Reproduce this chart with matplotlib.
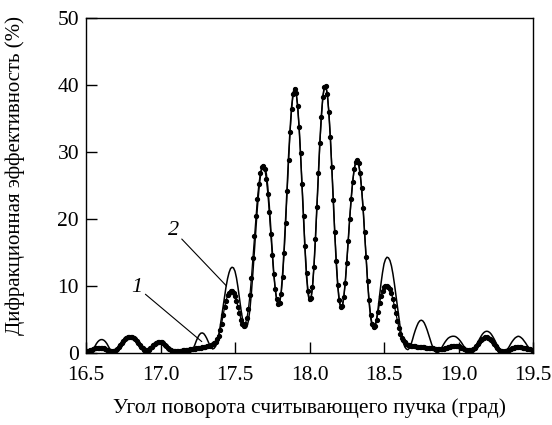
import numpy as np
import matplotlib
matplotlib.use("Agg")
import matplotlib.pyplot as plt

plt.rcParams['font.family'] = ['Liberation Serif', 'DejaVu Serif']

# read angle, deg (step 0.01 from 16.50 to 19.50)
angle = np.round(np.arange(1650, 1951) / 100.0, 2)

# curve 2 (thin line)
eff_2 = [
    0.3, 0.15, 0.05, 0.1, 0.3, 0.6, 1.0, 1.4, 1.7, 1.9,          # 16.50
    2.0, 2.0, 1.9, 1.7, 1.4, 1.0, 0.6, 0.3, 0.1, 0.05,           # 16.60
    0.2, 0.4, 0.7, 1.0, 1.35, 1.65, 1.9, 2.05, 2.15, 2.2,        # 16.70
    2.2, 2.15, 2.05, 1.9, 1.65, 1.35, 1.0, 0.7, 0.4, 0.2,        # 16.80
    0.05, 0.05, 0.2, 0.45, 0.75, 1.05, 1.3, 1.5, 1.65, 1.7,      # 16.90
    1.7, 1.65, 1.5, 1.3, 1.05, 0.75, 0.45, 0.25, 0.1, 0.05,      # 17.00
    0.1, 0.2, 0.3, 0.35, 0.4, 0.4, 0.35, 0.3, 0.2, 0.1,          # 17.10
    0.1, 0.3, 0.7, 1.2, 1.8, 2.3, 2.7, 2.95, 3.0, 2.9,           # 17.20
    2.6, 2.2, 1.7, 1.2, 0.8, 0.6, 0.7, 1.0, 1.6, 2.6,            # 17.30
    3.9, 5.4, 7.0, 8.5, 9.9, 11.1, 12.0, 12.6, 12.8, 12.7,       # 17.40
    12.2, 11.2, 9.8, 8.1, 6.5, 5.1, 4.1, 3.7, 3.9, 4.8,          # 17.50
    6.5, 9.0, 12.0, 15.3, 18.6, 21.7, 24.3, 26.3, 27.6, 28.1,    # 17.60
    27.9, 26.8, 24.8, 22.0, 18.7, 15.2, 12.0, 9.5, 7.8, 7.2,     # 17.70
    7.6, 9.2, 12.0, 15.8, 20.2, 25.0, 29.6, 33.6, 36.8, 38.9,    # 17.80
    39.6, 39.0, 37.0, 33.8, 29.6, 24.8, 19.8, 15.2, 11.4, 8.8,   # 17.90
    7.7, 8.0, 9.8, 13.0, 17.3, 22.2, 27.2, 31.8, 35.6, 38.4,     # 18.00
    39.8, 39.8, 38.5, 35.8, 32.0, 27.4, 22.4, 17.5, 13.2, 9.8,   # 18.10
    7.6, 6.7, 6.9, 8.3, 10.6, 13.6, 16.9, 20.2, 23.2, 25.7,      # 18.20
    27.5, 28.5, 28.7, 28.1, 26.7, 24.4, 21.4, 17.8, 14.0, 10.5,  # 18.30
    7.5, 5.3, 4.0, 3.6, 3.9, 5.0, 6.6, 8.5, 10.4, 12.0,          # 18.40
    13.3, 14.0, 14.3, 14.2, 13.8, 13.0, 11.8, 10.3, 8.6, 6.8,    # 18.50
    5.1, 3.6, 2.4, 1.5, 0.9, 0.6, 0.5, 0.7, 1.2, 1.9,            # 18.60
    2.7, 3.4, 4.0, 4.5, 4.8, 4.9, 4.8, 4.5, 4.0, 3.4,            # 18.70
    2.7, 2.0, 1.3, 0.7, 0.3, 0.1, 0.05, 0.2, 0.5, 0.9,           # 18.80
    1.3, 1.65, 1.95, 2.2, 2.35, 2.45, 2.5, 2.5, 2.45, 2.3,       # 18.90
    2.1, 1.85, 1.55, 1.2, 0.85, 0.55, 0.3, 0.1, 0.05, 0.1,       # 19.00
    0.35, 0.7, 1.15, 1.6, 2.05, 2.45, 2.8, 3.05, 3.2, 3.25,      # 19.10
    3.2, 3.05, 2.8, 2.45, 2.05, 1.6, 1.15, 0.75, 0.4, 0.15,      # 19.20
    0.05, 0.1, 0.3, 0.6, 0.95, 1.35, 1.7, 2.0, 2.25, 2.4,        # 19.30
    2.5, 2.45, 2.3, 2.1, 1.8, 1.5, 1.15, 0.85, 0.6, 0.45,        # 19.40
    0.35,                                                        # 19.50
]

# curve 1 (measured points)
eff_1 = [
    0.3, 0.3, 0.35, 0.4, 0.5, 0.6, 0.7, 0.75, 0.8, 0.8,          # 16.50
    0.8, 0.75, 0.7, 0.6, 0.5, 0.4, 0.35, 0.3, 0.3, 0.35,         # 16.60
    0.45, 0.65, 0.9, 1.2, 1.5, 1.8, 2.05, 2.25, 2.35, 2.4,       # 16.70
    2.4, 2.35, 2.25, 2.1, 1.85, 1.55, 1.25, 0.95, 0.7, 0.5,      # 16.80
    0.4, 0.4, 0.5, 0.7, 0.95, 1.2, 1.4, 1.55, 1.65, 1.7,         # 16.90
    1.7, 1.6, 1.45, 1.25, 1.0, 0.8, 0.6, 0.45, 0.35, 0.3,        # 17.00
    0.3, 0.3, 0.3, 0.35, 0.35, 0.4, 0.4, 0.45, 0.5, 0.5,         # 17.10
    0.55, 0.6, 0.6, 0.65, 0.7, 0.7, 0.75, 0.8, 0.85, 0.9,        # 17.20
    0.95, 1.0, 1.05, 1.1, 1.2, 1.3, 1.45, 1.7, 2.1, 2.6,         # 17.30
    3.4, 4.4, 5.6, 6.8, 7.8, 8.6, 9.0, 9.2, 9.2, 9.0,            # 17.40
    8.5, 7.8, 6.9, 6.0, 5.0, 4.3, 4.1, 4.4, 5.2, 6.6,            # 17.50
    8.6, 11.2, 14.2, 17.4, 20.4, 23.0, 25.2, 26.8, 27.7, 27.9,   # 17.60
    27.4, 26.0, 23.8, 21.0, 17.8, 14.6, 11.8, 9.6, 8.0, 7.3,     # 17.70
    7.5, 8.8, 11.4, 15.0, 19.4, 24.2, 28.8, 33.0, 36.4, 38.6,    # 17.80
    39.4, 38.8, 36.9, 33.8, 29.8, 25.2, 20.4, 15.9, 12.0, 9.3,   # 17.90
    8.0, 8.2, 9.9, 12.9, 17.0, 21.8, 26.8, 31.4, 35.3, 38.2,     # 18.00
    39.7, 39.8, 38.6, 36.0, 32.3, 27.8, 22.9, 18.0, 13.7, 10.2,  # 18.10
    7.9, 6.9, 7.0, 8.3, 10.5, 13.4, 16.7, 20.0, 23.0, 25.5,      # 18.20
    27.4, 28.5, 28.8, 28.3, 26.9, 24.6, 21.6, 18.0, 14.3, 10.8,  # 18.30
    7.9, 5.7, 4.4, 3.9, 4.1, 4.9, 6.1, 7.4, 8.5, 9.3,            # 18.40
    9.8, 10.0, 10.0, 9.8, 9.5, 8.9, 8.0, 7.0, 5.9, 4.8,          # 18.50
    3.8, 2.9, 2.3, 1.9, 1.6, 1.4, 1.2, 1.15, 1.1, 1.05,          # 18.60
    1.0, 1.0, 0.95, 0.95, 0.9, 0.9, 0.85, 0.85, 0.8, 0.8,        # 18.70
    0.75, 0.75, 0.7, 0.7, 0.65, 0.65, 0.6, 0.6, 0.6, 0.6,        # 18.80
    0.65, 0.7, 0.75, 0.85, 0.9, 1.0, 1.05, 1.1, 1.1, 1.05,       # 18.90
    1.0, 0.9, 0.8, 0.7, 0.6, 0.5, 0.45, 0.4, 0.4, 0.45,          # 19.00
    0.55, 0.75, 1.0, 1.3, 1.6, 1.9, 2.15, 2.3, 2.4, 2.4,         # 19.10
    2.3, 2.15, 1.9, 1.6, 1.3, 1.0, 0.75, 0.5, 0.35, 0.25,        # 19.20
    0.2, 0.25, 0.3, 0.4, 0.5, 0.6, 0.7, 0.8, 0.85, 0.9,          # 19.30
    0.9, 0.9, 0.85, 0.8, 0.75, 0.7, 0.65, 0.6, 0.55, 0.5,        # 19.40
    0.5,                                                         # 19.50
]

x_ticks = [16.5, 17.0, 17.5, 18.0, 18.5, 19.0, 19.5]
y_ticks = [0, 10, 20, 30, 40, 50]

fig = plt.figure(figsize=(5.52, 4.25), dpi=100)
ax = fig.add_axes([0.1558, 0.1694, 0.8098, 0.7882])

ax.plot(angle, eff_2, color='black', lw=1.1, zorder=3)
ax.plot(angle, eff_1, color='black', lw=0.9, marker='o', ms=2.8,
        mec='black', mfc='black', zorder=2)

# curve labels with leader lines
ax.annotate('2', xy=(17.443, 10.0), xytext=(17.124, 16.9),
            fontsize=16, style='italic', ha='right', va='bottom',
            arrowprops=dict(arrowstyle='-', lw=0.8, color='black',
                            shrinkA=0, shrinkB=0))
ax.annotate('1', xy=(17.277, 1.7), xytext=(16.88, 8.4),
            fontsize=16, style='italic', ha='right', va='bottom',
            arrowprops=dict(arrowstyle='-', lw=0.8, color='black',
                            shrinkA=0, shrinkB=0))

ax.set_xlim(16.5, 19.5)
ax.set_ylim(0, 50)
ax.set_xticks(x_ticks)
ax.set_xticklabels([f"{t:.1f}" for t in x_ticks])
ax.set_yticks(y_ticks)
ax.tick_params(direction='in', length=8, width=1, labelsize=15.5)
ax.tick_params(axis='x', pad=9)
ax.tick_params(axis='y', pad=5)
for s in ax.spines.values():
    s.set_linewidth(1.0)

fig.text(0.561, 0.04, 'Угол поворота считывающего пучка (град)',
         ha='center', va='center', fontsize=15.5)
fig.text(0.028, 0.588, 'Дифракционная эффективность (%)',
         ha='center', va='center', rotation=90, fontsize=15)

fig.savefig('out.png', dpi=100)
